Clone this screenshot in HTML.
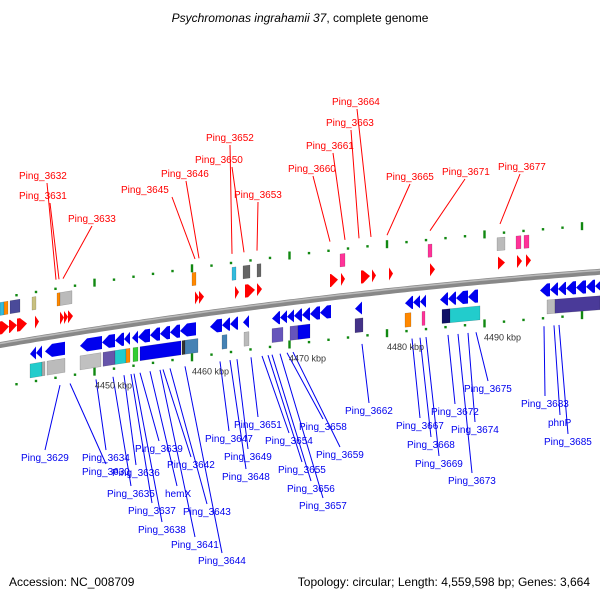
<!DOCTYPE html>
<html><head><meta charset="utf-8">
<style>
html,body{margin:0;padding:0;background:#fff;}
svg{display:block;font-family:"Liberation Sans",sans-serif;}
</style></head>
<body>
<svg id="map" width="600" height="600" viewBox="0 0 600 600" xmlns="http://www.w3.org/2000/svg">
<rect width="600" height="600" fill="#fff"/>
<text x="300" y="22" text-anchor="middle" font-size="12" fill="#000" font-style="italic">Psychromonas ingrahamii 37<tspan font-style="normal">, complete genome</tspan></text>
<g id="ticks"></g>
<g id="backbone"></g>
<g id="genes"></g>
<g id="lines"></g>
<g id="labels"></g>
<text x="9" y="586" font-size="12" fill="#000">Accession: NC_008709</text>
<text x="590" y="586" font-size="12" fill="#000" text-anchor="end">Topology: circular; Length: 4,559,598 bp; Genes: 3,664</text>
</svg>
<script>
const fwdArrows = [[0,9],[9,17],[17,27],[35,39],[60,64],[64,68],[68,73],[195,199],[199,204],[235,239],[245,255],[257,262],[330,338],[341,345],[361,370],[372,376],[389,393],[430,435],[498,505],[517,522],[526,531]];
const fwdBoxes = [[0,4,'#33bbdd'],[4,8,'#ff8800'],[10,20,'#4a4a99'],[32,36,'#c8c080'],[57,60,'#ff8800'],[60,72,'#bbbbbb'],[192,196,'#ff8800'],[232,236,'#33bbdd'],[243,250,'#666666'],[257,261,'#666666'],[340,345,'#ff3399'],[428,432,'#ff3399'],[497,505,'#bbbbbb'],[516,521,'#ff3399'],[524,529,'#ff3399']];
const revArrows = [[30,36],[36,42],[45,65],[80,102],[102,115],[115,124],[124,130],[132,138],[138,150],[150,160],[160,170],[170,180],[180,196],[210,222],[222,230],[230,238],[243,249],[272,280],[280,287],[287,294],[294,302],[302,310],[310,320],[320,331],[355,362],[405,413],[413,420],[420,426],[440,448],[448,456],[456,468],[468,478],[540,550],[550,558],[558,566],[566,576],[576,586],[586,595],[595,605]];
const revBoxes = [[30,42,'#22cccc'],[42,45,'#aaaaaa'],[47,65,'#bbbbbb'],[80,101,'#c0c0c0'],[103,115,'#6655aa'],[115,126,'#22cccc'],[126,130,'#ff8800'],[133,138,'#33cc33'],[140,181,'#0000ee'],[182,185,'#333333'],[185,198,'#4682b4'],[222,227,'#4682b4'],[244,249,'#bbbbbb'],[272,283,'#6655bb'],[290,298,'#6655bb'],[298,310,'#0000ee'],[355,363,'#443388'],[405,411,'#ff8800'],[422,425,'#ff3399'],[442,450,'#111166'],[450,480,'#22cccc'],[547,555,'#bbbbbb'],[555,600,'#4a3a99']];
const kbpLabels = ['4450 kbp','4460 kbp','4470 kbp','4480 kbp','4490 kbp'];
const kbpX = [95,192,289,387,484];
// top labels: name, text x, baseline y, leader start x, leader start y, gene x
const topNames = ['Ping_3632','Ping_3631','Ping_3633','Ping_3645','Ping_3646','Ping_3652','Ping_3650','Ping_3653','Ping_3664','Ping_3663','Ping_3661','Ping_3660','Ping_3665','Ping_3671','Ping_3677'];
const topLX = [19,19,68,121,161,206,195,234,332,326,306,288,386,442,498];
const topLY = [179,199,222,193,177,141,163,198,105,126,149,172,180,175,170];
const topSX = [47,50,92,172,186,230,232,258,357,351,333,313,410,465,520];
const topSY = [183,203,226,197,181,145,167,202,109,130,153,176,184,179,174];
const topGX = [56,59,63,195,199,232,244,257,371,359,345,330,387,430,500];
// bottom labels
const botNames = ['Ping_3629','Ping_3630','Ping_3634','Ping_3636','Ping_3635','Ping_3637','Ping_3639','Ping_3642','hemX','Ping_3638','Ping_3641','Ping_3643','Ping_3644','Ping_3647','Ping_3649','Ping_3648','Ping_3651','Ping_3654','Ping_3655','Ping_3656','Ping_3657','Ping_3658','Ping_3659','Ping_3662','Ping_3667','Ping_3668','Ping_3669','Ping_3673','Ping_3672','Ping_3674','Ping_3675','Ping_3683','phnP','Ping_3685'];
const botLX = [21,82,82,112,107,128,135,167,165,138,171,183,198,205,224,222,234,265,278,287,299,299,316,345,396,407,415,448,431,451,464,521,548,544];
const botLY = [461,475,461,476,497,514,452,468,497,533,548,515,564,442,460,480,428,444,473,492,509,430,458,414,429,448,467,484,415,433,392,407,426,445];
const botGX = [60,70,96,124,113,131,140,163,150,134,160,170,185,220,237,230,251,262,268,272,280,287,293,362,412,420,426,458,448,468,476,544,554,559];

const NS='http://www.w3.org/2000/svg';
function yb(x){return 345-0.17*x+0.00008*x*x;}
function P(x,o){return [x, yb(x)+o];}
function mk(tag,attrs,parent){const e=document.createElementNS(NS,tag);for(const k in attrs)e.setAttribute(k,attrs[k]);parent.appendChild(e);return e;}
const gT=document.getElementById('ticks'),gB=document.getElementById('backbone'),gG=document.getElementById('genes'),gL=document.getElementById('lines'),gLab=document.getElementById('labels');

let d='';for(let x=-5;x<=605;x+=5){d+=(x===-5?'M':'L')+x+','+yb(x).toFixed(1);}
const bb=mk('path',{d:d,stroke:'#888',"stroke-width":6,fill:'none'},gB);


mk('path',{d:d,stroke:'#bbb',"stroke-width":1.5,fill:'none',transform:'translate(0,-1.5)'},gB);

for(let i=0;i<32;i++){const x=-3+i*19.5;const big=(i%5===0);
 for(const o of [-47,42]){const p=P(x,o);
  const t=mk('rect',{x:p[0]-1.2,y:p[1]-(big?4:1.2),width:2.4,height:big?8:2.4,fill:'#118811'},gT);
  
  }}

function box(a,b,o,h,col){const p1=P(a,o-h/2),p2=P(b,o-h/2),p3=P(b,o+h/2),p4=P(a,o+h/2);
 return mk('polygon',{points:[p1,p2,p3,p4].map(p=>p.join(',')).join(' '),fill:col,stroke:'rgba(0,0,0,0.25)',"stroke-width":0.5},gG);}
function arrow(a,b,o,h,col,fwd){const head=Math.min(7,(b-a));let pts;
 if(fwd){pts=[P(a,o-h/2),P(b-head,o-h/2),P(b,o),P(b-head,o+h/2),P(a,o+h/2)];}
 else{pts=[P(b,o-h/2),P(a+head,o-h/2),P(a,o),P(a+head,o+h/2),P(b,o+h/2)];}
 return mk('polygon',{points:pts.map(p=>p.join(',')).join(' '),fill:col},gG);}
fwdArrows.forEach(g=>{const e=arrow(g[0],g[1],-17,13,'#ff0000',true);
 
 });
fwdBoxes.forEach(g=>{const e=box(g[0],g[1],-36,13,g[2]);
 
 });
revArrows.forEach(g=>{const e=arrow(g[0],g[1],14,13,'#0000ee',false);
 
 });
revBoxes.forEach(g=>{const e=box(g[0],g[1],31,14,g[2]);
 
 });

kbpLabels.forEach((s,i)=>{const x=kbpX[i];const t=mk('text',{x:x,y:yb(x)+59,"font-size":9,fill:'#333'},gLab);t.textContent=s;
 
 });

topNames.forEach((n,i)=>{const t=mk('text',{x:topLX[i],y:topLY[i],"font-size":10,fill:'#ff0000'},gLab);t.textContent=n;
 
 
 const gx=topGX[i];
 const l=mk('line',{x1:topSX[i],y1:topSY[i],x2:gx,y2:yb(gx)-56,stroke:'#ff0000',"stroke-width":1},gL);
 
 });
botNames.forEach((n,i)=>{const t=mk('text',{x:botLX[i],y:botLY[i],"font-size":10,fill:'#0000ee'},gLab);t.textContent=n;
 
 
 const lx=botLX[i]+(n.length>5?24:12),ly=botLY[i]-11,gx=botGX[i];
 const l=mk('line',{x1:lx,y1:ly,x2:gx,y2:yb(gx)+50,stroke:'#0000ee',"stroke-width":1},gL);
 
 });
</script>
</body></html>
